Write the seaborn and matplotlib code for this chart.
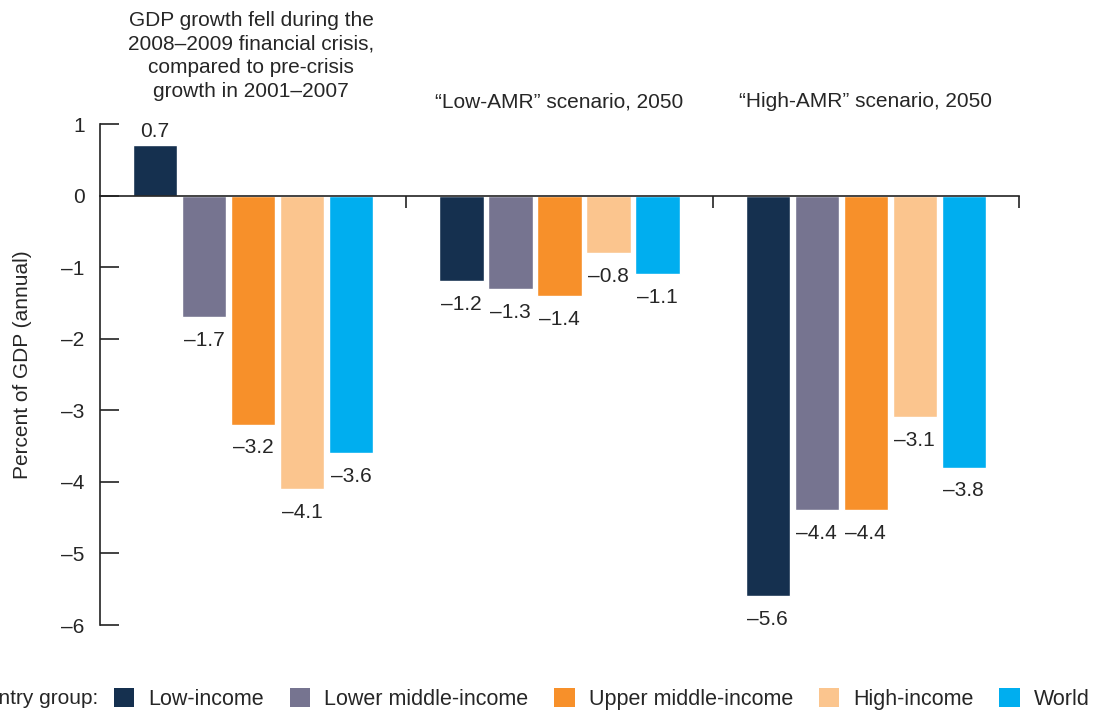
import pandas as pd
import numpy as np
import matplotlib.pyplot as plt
import matplotlib.ticker as mticker
from matplotlib.patches import Patch
import seaborn as sns

# chart data
scenarios = ["crisis", "low_amr", "high_amr"]
scenario_titles = [
    "GDP growth fell during the\n2008\u20132009 financial crisis,\ncompared to pre-crisis\ngrowth in 2001\u20132007",
    "\u201cLow-AMR\u201d scenario, 2050",
    "\u201cHigh-AMR\u201d scenario, 2050",
]
groups = ["Low-income", "Lower middle-income", "Upper middle-income", "High-income", "World"]
low_income = [0.7, -1.2, -5.6]
lower_middle = [-1.7, -1.3, -4.4]
upper_middle = [-3.2, -1.4, -4.4]
high_income = [-4.1, -0.8, -3.1]
world = [-3.6, -1.1, -3.8]
colors = ["#15304F", "#767490", "#F7902A", "#FBC58E", "#00AEEF"]
yticks = [1, 0, -1, -2, -3, -4, -5, -6]

series = [low_income, lower_middle, upper_middle, high_income, world]
df = pd.DataFrame(
    [(s, g, v) for g, vals in zip(groups, series) for s, v in zip(scenarios, vals)],
    columns=["scenario", "group", "value"],
)


def dash(v, fmt="{:.1f}"):
    # en dash instead of hyphen for negative numbers
    txt = fmt.format(abs(v))
    return ("\u2013" + txt) if v < 0 else txt


sns.set_style("white")
plt.rcParams["font.family"] = ["Liberation Sans", "DejaVu Sans"]
plt.rcParams["font.size"] = 15

fig = plt.figure(figsize=(11.03, 7.13), dpi=100)
ax = fig.add_axes([100 / 1103, 88 / 713, 919 / 1103, 501 / 713])

sns.barplot(
    data=df, x="scenario", y="value", hue="group", order=scenarios, hue_order=groups,
    palette=colors, width=0.8, gap=0.1, saturation=1, legend=False, ax=ax,
)

# value labels: negatives sit a bit further from the bar end than positives
for cont in ax.containers:
    vals = [b.get_height() for b in cont]
    ax.bar_label(cont, labels=[dash(v) if v < 0 else "" for v in vals], padding=10, fontsize=15)
    ax.bar_label(cont, labels=[dash(v) if v >= 0 else "" for v in vals], padding=3, fontsize=15)

ax.set_ylim(-6, 1)
ax.set_xlim(-0.5, len(scenarios) - 0.5)
ax.set_yticks(yticks)
ax.yaxis.set_major_formatter(mticker.FuncFormatter(lambda v, p: dash(v, "{:.0f}")))
ax.tick_params(axis="y", left=True, direction="in", length=14, width=1.2, pad=11,
               labelsize=15, color="#222222")

# zero line with small separators between groups
ax.spines["bottom"].set_position(("data", 0))
for side in ["bottom", "left"]:
    ax.spines[side].set_linewidth(1.2)
    ax.spines[side].set_color("#222222")
ax.spines["top"].set_visible(False)
ax.spines["right"].set_visible(False)
ax.set_xticks(np.arange(len(scenarios)))
ax.set_xticklabels([])
ax.tick_params(axis="x", which="major", length=0)
ax.set_xticks(np.arange(len(scenarios)) + 0.5, minor=True)
ax.tick_params(axis="x", which="minor", bottom=True, direction="out", length=8.5,
               width=1.2, color="#222222")

ax.set_xlabel("")
ax.set_ylabel("Percent of GDP (annual)", fontsize=15, labelpad=21)
ax.yaxis.label.set_y(0.52)

title_offsets = [23, 13, 13]
for i, (t, off) in enumerate(zip(scenario_titles, title_offsets)):
    ax.annotate(t, xy=(i, 1), xycoords=("data", "axes fraction"), xytext=(-2 if i == 0 else 0, off),
                textcoords="offset pixels", ha="center", va="bottom",
                fontsize=15, linespacing=1.32)

handles = [Patch(facecolor=c, edgecolor="none") for c in colors]
fig.text(98 / 1103, 1 - 699 / 713, "Country group:", ha="right", va="center", fontsize=15)
fig.legend(
    handles, groups, loc="center left", bbox_to_anchor=(114 / 1103, 1 - 699 / 713),
    ncol=5, frameon=False, fontsize=15.5, handlelength=0.95, handleheight=1.0,
    handletextpad=0.65, columnspacing=1.2, borderaxespad=0, borderpad=0,
)

fig.savefig("out.png", dpi=100)
